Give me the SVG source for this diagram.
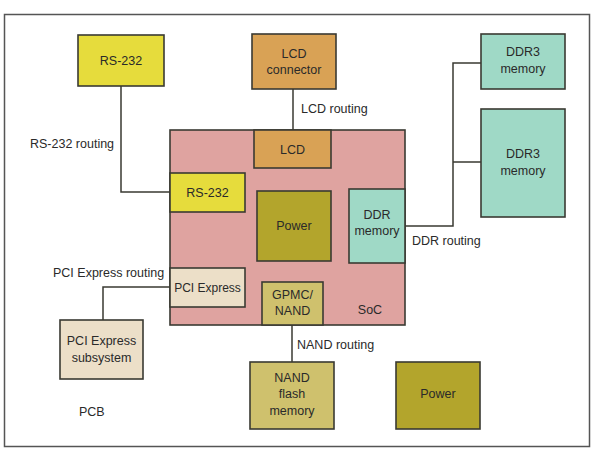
<svg xmlns="http://www.w3.org/2000/svg" width="595" height="461" viewBox="0 0 595 461">
<style>
.b{stroke:#3a3a32;stroke-width:1.6}
.t{font-family:"Liberation Sans",Arial,sans-serif;font-size:12.5px;fill:#2a2a2a;text-anchor:middle}
.l{font-family:"Liberation Sans",Arial,sans-serif;font-size:12.5px;fill:#2a2a2a}
.c{fill:none;stroke:#3a3a32;stroke-width:1.5}
</style>
<rect width="595" height="461" fill="#fff"/>
<g id="pcb">
<rect x="4.5" y="14.5" width="585" height="432" fill="#fff" stroke="#555" stroke-width="1.5"/>
<text class="l" x="79" y="416">PCB</text>
</g>
<g id="connectors">
<path class="c" d="M121 86V192H170"/>
<path class="c" d="M293 89V130"/>
<path class="c" d="M404 226H453V63H481M453 162H481"/>
<path class="c" d="M170 287H103V320"/>
<path class="c" d="M292 325V362"/>
<text class="l" x="30" y="148">RS-232 routing</text>
<text class="l" x="301" y="113">LCD routing</text>
<text class="l" x="412" y="245">DDR routing</text>
<text class="l" x="53" y="277">PCI Express routing</text>
<text class="l" x="297" y="349">NAND routing</text>
</g>
<g id="soc">
<rect class="b" x="170" y="130" width="235" height="195" fill="#dfa3a0"/>
<text class="t" x="370" y="314">SoC</text>
</g>
<g id="lcd-inner">
<rect class="b" x="254" y="130" width="77" height="38" fill="#d9a255"/>
<text class="t" x="292.5" y="154">LCD</text>
</g>
<g id="rs232-inner">
<rect class="b" x="170" y="173" width="75" height="39" fill="#e6dc3c"/>
<text class="t" x="207.5" y="197">RS-232</text>
</g>
<g id="power-inner">
<rect class="b" x="257" y="191" width="74" height="70" fill="#b3a52c"/>
<text class="t" x="294" y="230">Power</text>
</g>
<g id="ddr-memory">
<rect class="b" x="349" y="189" width="56" height="74" fill="#9fd9c6"/>
<text class="t" x="377" y="219">DDR</text>
<text class="t" x="377" y="235">memory</text>
</g>
<g id="pci-inner">
<rect class="b" x="170" y="268" width="75" height="39" fill="#ecdfc8"/>
<text class="t" x="207.5" y="292" style="font-size:12px">PCI Express</text>
</g>
<g id="gpmc">
<rect class="b" x="262" y="282" width="61" height="43" fill="#cfc16d"/>
<text class="t" x="292.5" y="299">GPMC/</text>
<text class="t" x="292.5" y="315">NAND</text>
</g>
<g id="rs232">
<rect class="b" x="78" y="35" width="86" height="51" fill="#e6dc3c"/>
<text class="t" x="121" y="65">RS-232</text>
</g>
<g id="lcd-connector">
<rect class="b" x="252" y="34" width="84" height="55" fill="#d9a255"/>
<text class="t" x="294" y="58">LCD</text>
<text class="t" x="294" y="74">connector</text>
</g>
<g id="ddr3-a">
<rect class="b" x="481" y="34" width="84" height="55" fill="#9fd9c6"/>
<text class="t" x="523" y="56">DDR3</text>
<text class="t" x="523" y="73">memory</text>
</g>
<g id="ddr3-b">
<rect class="b" x="481" y="109" width="84" height="108" fill="#9fd9c6"/>
<text class="t" x="523" y="158">DDR3</text>
<text class="t" x="523" y="175">memory</text>
</g>
<g id="pci-subsystem">
<rect class="b" x="60" y="320" width="83" height="59" fill="#ecdfc8"/>
<text class="t" x="101.5" y="345">PCI Express</text>
<text class="t" x="101.5" y="362">subsystem</text>
</g>
<g id="nand-flash">
<rect class="b" x="250" y="362" width="84" height="67" fill="#cfc16d"/>
<text class="t" x="292" y="382">NAND</text>
<text class="t" x="292" y="398">flash</text>
<text class="t" x="292" y="415">memory</text>
</g>
<g id="power">
<rect class="b" x="396" y="362" width="84" height="67" fill="#b3a52c"/>
<text class="t" x="438" y="398">Power</text>
</g>
</svg>
